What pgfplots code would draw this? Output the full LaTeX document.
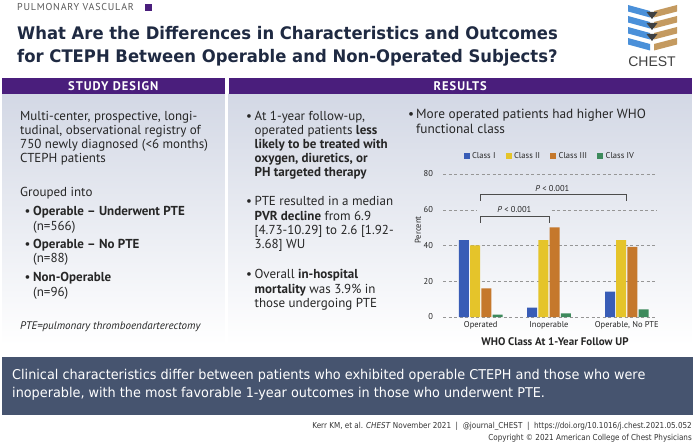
\documentclass[border=0pt]{standalone}
\usepackage{fontspec}
\setmainfont{PT Sans}
\newfontfamily\tah[FakeStretch=0.95]{DejaVu Sans}
\newfontfamily\tahf[FakeStretch=0.88]{DejaVu Sans}
\newfontfamily\arial{Liberation Sans}
\usepackage{pgfplots}
\pgfplotsset{compat=1.18}
\definecolor{hpurple}{RGB}{74,30,124}
\definecolor{navy}{RGB}{31,42,66}
\definecolor{bannerc}{RGB}{70,84,111}
\definecolor{panel}{RGB}{211,216,229}
\definecolor{txt}{RGB}{38,38,38}
\definecolor{gridc}{RGB}{150,150,150}
\definecolor{c1}{RGB}{56,92,182}
\definecolor{c2}{RGB}{229,196,42}
\definecolor{c3}{RGB}{197,120,44}
\definecolor{c4}{RGB}{61,138,92}
\definecolor{lblue}{RGB}{74,144,217}
\definecolor{tanc}{RGB}{196,154,96}
\newcommand{\body}{\fontsize{13}{14}\selectfont}
\newcommand{\chf}{\fontsize{8.5}{9}\selectfont}
\begin{document}
\begin{tikzpicture}
\begin{scope}[x=1pt,y=1pt]
\path[use as bounding box, fill=white] (0,0) rectangle (695,-443);
% header
\node[anchor=base west, text=black!65, font=\fontsize{10}{10}\selectfont\addfontfeatures{LetterSpace=8}, inner sep=0pt] at (17,-11) {PULMONARY VASCULAR};
\fill[hpurple] (145,-4.5) rectangle (152,-11.5);
\node[anchor=base west, text=navy, font=\tah\bfseries\fontsize{17.3}{20}\selectfont, inner sep=0pt] at (17,-39.3) {What Are the Differences in Characteristics and Outcomes};
\node[anchor=base west, text=navy, font=\tah\bfseries\fontsize{17.3}{20}\selectfont, inner sep=0pt] at (17,-62.7) {for CTEPH Between Operable and Non-Operated Subjects?};
% logo
\foreach \k in {0,1,2,3}{
  \pgfmathsetmacro{\yo}{5+11*\k}
  \fill[lblue] (628,-\yo) -- (650,-\yo-6) -- (650,-\yo-12.5) -- (628,-\yo-6.5) -- cycle;
  \fill[tanc] (677,-\yo) -- (654,-\yo-6) -- (654,-\yo-12.5) -- (677,-\yo-6.5) -- cycle;
}
\foreach \k in {0,1,2}{
  \pgfmathsetmacro{\yo}{12+11*\k}
  \fill[black!75] (646.5,-\yo) -- (657.5,-\yo) -- (652,-\yo-7) -- cycle;
}
\node[text=black!75, font=\arial\fontsize{14}{14}\selectfont] at (652,-61.5) {CHEST};
% panels
\shade[top color=panel, bottom color=white] (2,-94) rectangle (224.7,-345);
\shade[top color=panel, bottom color=white] (228.7,-94) rectangle (691.7,-345);
\fill[hpurple] (2,-78.3) rectangle (224.7,-94);
\fill[hpurple] (228.7,-78.3) rectangle (691.7,-94);
\node[text=white, font=\bfseries\fontsize{12.5}{13}\selectfont\addfontfeatures{LetterSpace=8}] at (113.3,-86.5) {STUDY DESIGN};
\node[text=white, font=\bfseries\fontsize{12.5}{13}\selectfont\addfontfeatures{LetterSpace=8}] at (460.2,-86.5) {RESULTS};
% left text
\begin{scope}[every node/.style={anchor=base west, text=txt, font=\body, inner sep=0pt}]
\node at (20,-121) {Multi-center, prospective, longi-};
\node at (20,-135) {tudinal, observational registry of};
\node at (20,-149) {750 newly diagnosed (<6 months)};
\node at (20,-163) {CTEPH patients};
\node at (20,-197) {Grouped into};
\node at (24.5,-216) {•}; \node at (33,-216) {\textbf{Operable – Underwent PTE}};
\node at (33,-231) {(n=566)};
\node at (24.5,-249) {•}; \node at (33,-249) {\textbf{Operable – No PTE}};
\node at (33,-263) {(n=88)};
\node at (24.5,-282) {•}; \node at (33,-282) {\textbf{Non-Operable}};
\node at (33,-296) {(n=96)};
\node[font=\itshape\fontsize{11}{12}\selectfont] at (20,-329) {PTE=pulmonary thromboendarterectomy};
% middle
\node at (246,-121) {•}; \node at (254.5,-121) {At 1-year follow-up,};
\node at (254.5,-135) {operated patients \textbf{less}};
\node at (254.5,-149) {\textbf{likely to be treated with}};
\node at (254.5,-163) {\textbf{oxygen, diuretics, or}};
\node at (254.5,-177) {\textbf{PH targeted therapy}};
\node at (246,-206) {•}; \node at (254.5,-206) {PTE resulted in a median};
\node at (254.5,-221) {\textbf{PVR decline} from 6.9};
\node at (254.5,-235) {[4.73-10.29] to 2.6 [1.92-};
\node at (254.5,-249) {3.68] WU};
\node at (246,-279) {•}; \node at (254.5,-279) {Overall \textbf{in-hospital}};
\node at (254.5,-293) {\textbf{mortality} was 3.9\% in};
\node at (254.5,-307) {those undergoing PTE};
% right
\node[font=\fontsize{13.3}{15}\selectfont] at (408,-119) {•};
\node[font=\fontsize{13.3}{15}\selectfont] at (416,-119) {More operated patients had higher WHO};
\node[font=\fontsize{13.3}{15}\selectfont] at (416,-134) {functional class};
\end{scope}
\end{scope}
% chart
\begin{axis}[at={(443pt,-317pt)}, anchor=south west, scale only axis,
  width=214pt, height=143pt, xmin=443, xmax=657, ymin=0, ymax=80,
  axis line style={draw=none}, major tick length=0pt,
  ytick={0,20,40,60,80}, xtick={480.7,549,626.8},
  xticklabels={Operated,Inoperable,{Operable, No PTE}},
  /pgf/number format/assume math mode=true,
  tick label style={font=\chf, text=txt},
  yticklabel style={xshift=-6.5pt},
  xticklabel style={yshift=-1pt},
  ybar=1.2pt, bar width=10pt,
  clip=false,
  legend columns=4,
  legend style={draw=none, fill=none, at={(0.5,1)}, anchor=south, yshift=12pt, xshift=0pt,
    font=\chf, text=txt, inner sep=0pt,
    nodes={inner xsep=2.3pt},
    /tikz/every even column/.append style={column sep=8pt}},
  legend image code/.code={\fill[#1] (0pt,-3pt) rectangle (6pt,3pt);},
]
\draw[gridc, dash pattern=on 3pt off 2.5pt] (axis cs:443,0) -- (axis cs:657,0);
\draw[gridc, dash pattern=on 3pt off 2.5pt] (axis cs:443,20) -- (axis cs:657,20);
\draw[gridc, dash pattern=on 3pt off 2.5pt] (axis cs:443,40) -- (axis cs:657,40);
\draw[gridc, dash pattern=on 3pt off 2.5pt] (axis cs:443,60) -- (axis cs:476.7,60);
\draw[gridc, dash pattern=on 3pt off 2.5pt] (axis cs:551.7,60) -- (axis cs:657,60);
\draw[gridc, dash pattern=on 3pt off 2.5pt] (axis cs:443,80) -- (axis cs:657,80);
\addplot[fill=c1, draw=none] coordinates {(480.7,43) (549,5.2) (626.8,14.2)};
\addplot[fill=c2, draw=none] coordinates {(480.7,40.1) (549,43) (626.8,43)};
\addplot[fill=c3, draw=none] coordinates {(480.7,16) (549,50.2) (626.8,39.2)};
\addplot[fill=c4, draw=none] coordinates {(480.7,1.3) (549,2) (626.8,4.3)};
\legend{Class I, Class II, Class III, Class IV}
\draw[black!70, line width=0.8pt] (axis cs:480.7,52.8) -- (axis cs:480.7,56.1) -- (axis cs:549,56.1) -- (axis cs:549,52.8);
\draw[black!70, line width=0.8pt] (axis cs:480.7,64.9) -- (axis cs:480.7,68.8) -- (axis cs:626.7,68.8) -- (axis cs:626.7,64.9);
\node[text=txt, font=\chf] at (axis cs:514.3,60) {\textit{P} < 0.001};
\node[text=txt, font=\chf] at (axis cs:552.3,72) {\textit{P} < 0.001};
\end{axis}
\begin{scope}[x=1pt,y=1pt]
\node[rotate=90, text=txt, font=\chf] at (418,-230) {Percent};
\node[text=txt, font=\bfseries\fontsize{11}{11}\selectfont] at (555,-341.7) {WHO Class At 1-Year Follow UP};
% banner
\fill[bannerc] (2,-357) rectangle (692.5,-415);
\node[anchor=base west, text=white, font=\tah\fontsize{13.5}{15}\selectfont, inner sep=0pt] at (12,-379.5) {Clinical characteristics differ between patients who exhibited operable CTEPH and those who were};
\node[anchor=base west, text=white, font=\tah\fontsize{13.5}{15}\selectfont, inner sep=0pt] at (12,-397.5) {inoperable, with the most favorable 1-year outcomes in those who underwent PTE.};
% footer
\node[anchor=base east, text=black!80, font=\tahf\fontsize{8.2}{10}\selectfont, inner sep=0pt] at (692,-428.5) {Kerr KM, et al. \textit{CHEST} November 2021\ \ |\ \ @journal\_CHEST\ \ |\ \ https://doi.org/10.1016/j.chest.2021.05.052};
\node[anchor=base east, text=black!80, font=\tahf\fontsize{8.2}{10}\selectfont, inner sep=0pt] at (692,-440) {Copyright © 2021 American College of Chest Physicians};
\end{scope}
\end{tikzpicture}
\end{document}
